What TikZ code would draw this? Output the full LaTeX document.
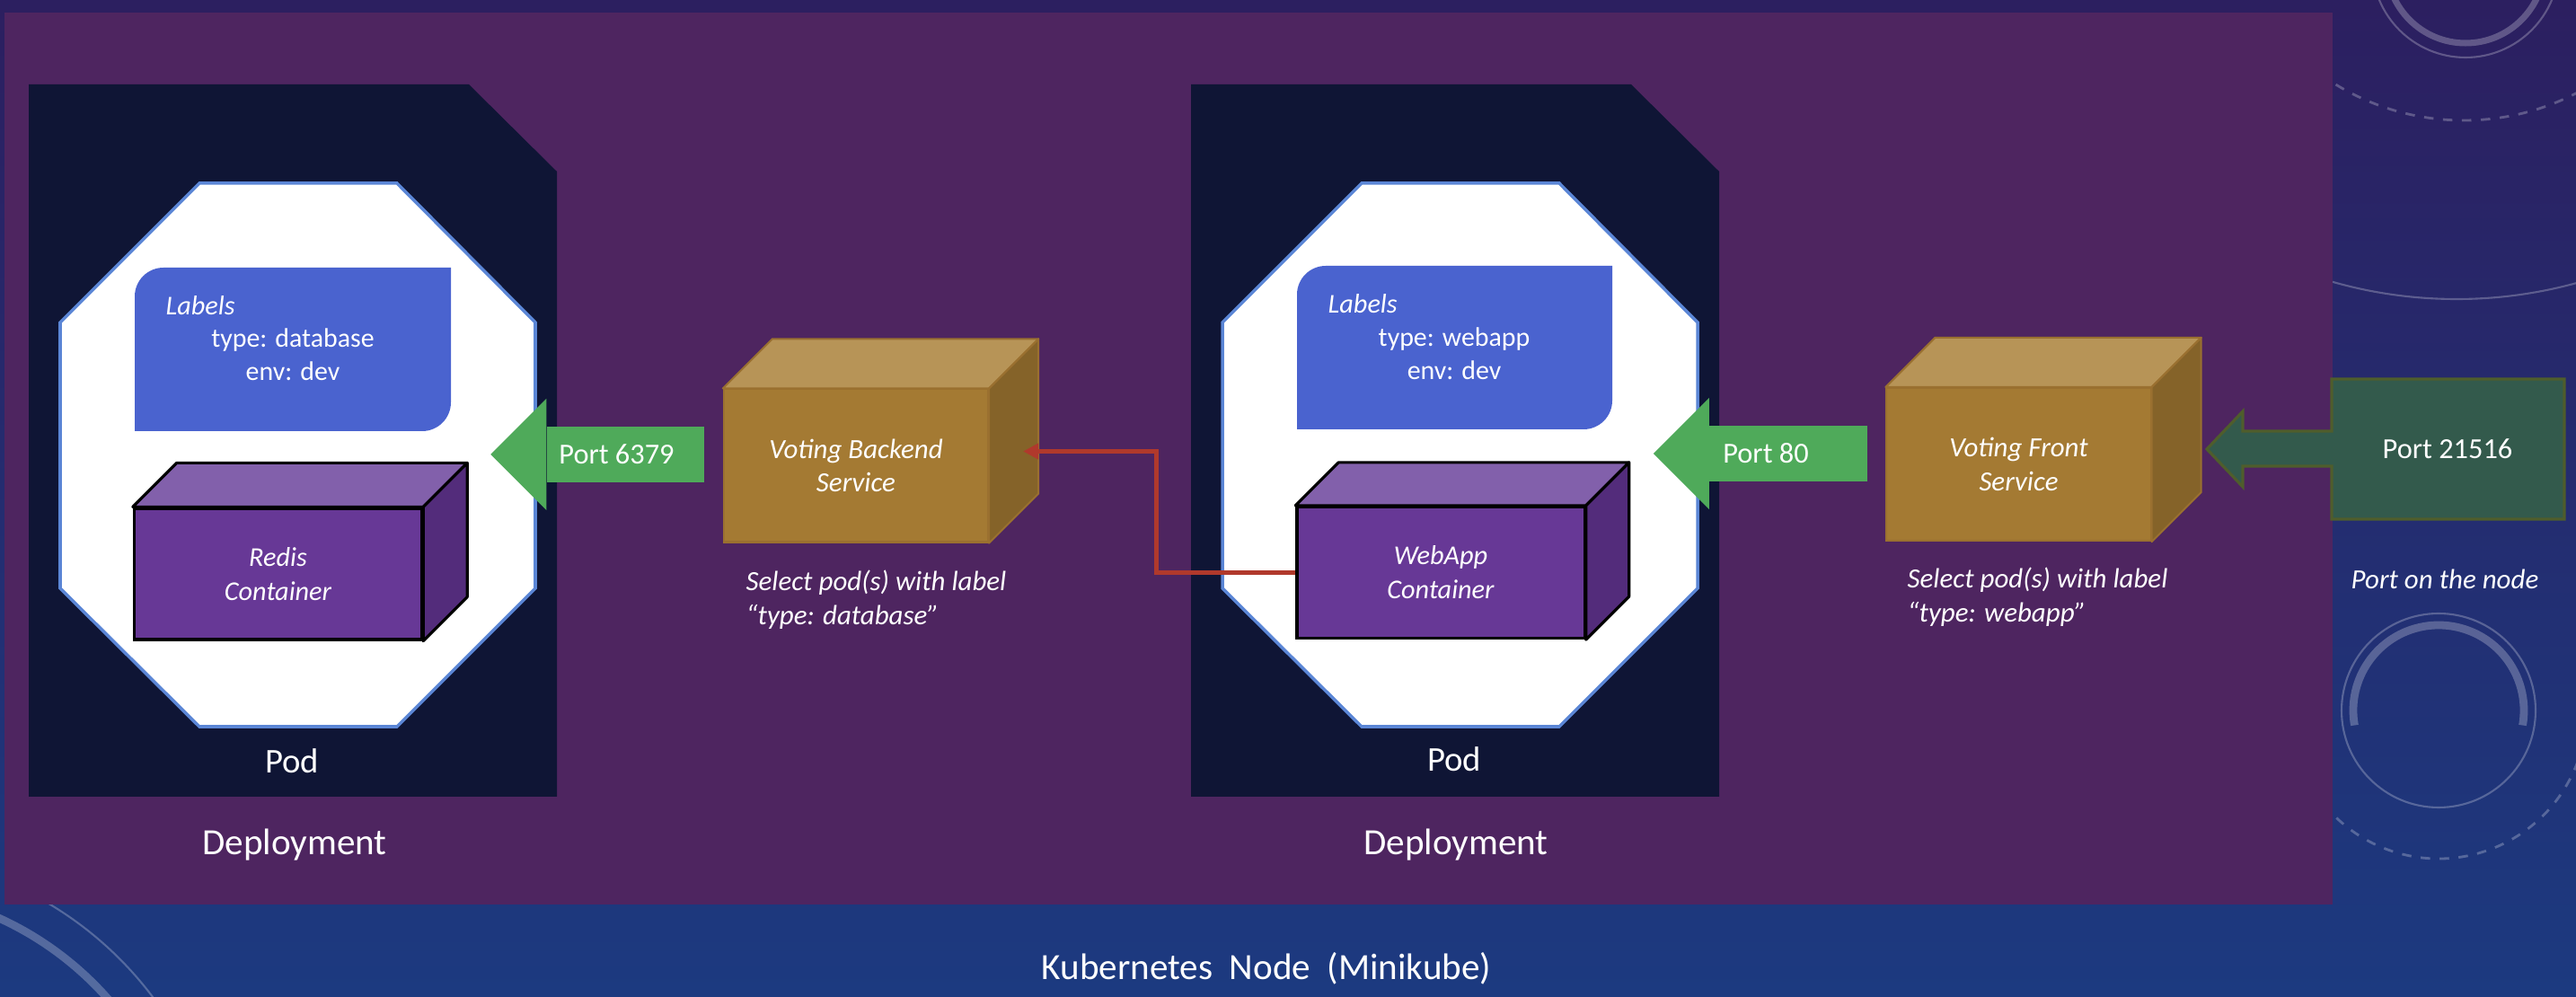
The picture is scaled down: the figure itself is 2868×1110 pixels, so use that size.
\documentclass[tikz,border=0pt]{standalone}
\usepackage{fontspec}
\setmainfont{Carlito}
\usetikzlibrary{arrows.meta}

\definecolor{bgtop}{HTML}{2C1F60}
\definecolor{bgbottom}{HTML}{1C3A80}
\definecolor{panelc}{HTML}{4E2560}
\definecolor{navyc}{HTML}{0F1535}
\definecolor{podblue}{HTML}{5B86D6}
\definecolor{labelblue}{HTML}{4A63CF}
\definecolor{cfront}{HTML}{673896}
\definecolor{ctopc}{HTML}{8260AB}
\definecolor{csidec}{HTML}{532C7B}
\definecolor{sfront}{HTML}{A47A33}
\definecolor{stopc}{HTML}{B79457}
\definecolor{ssidec}{HTML}{856329}
\definecolor{sedge}{HTML}{9A7030}
\definecolor{portgreen}{HTML}{4FAA5A}
\definecolor{nodeportc}{HTML}{335A4C}
\definecolor{nodeportedge}{HTML}{4F5D2C}
\definecolor{linkred}{HTML}{B0392C}

\tikzset{
  deploybox/.style={fill=navyc},
  podshape/.style={fill=white, draw=podblue, line width=1pt},
  ctr/.style={fill=cfront, draw=black, line width=0.9pt, minimum width=3.2cm, minimum height=1.46cm,
    inner sep=0pt, text=white, align=center, font=\fontsize{8.6}{10.8}\selectfont\itshape},
  ctrtop/.style={fill=ctopc, draw=black, line width=0.9pt, line join=round},
  ctrside/.style={fill=csidec, draw=black, line width=0.9pt, line join=round},
  svc/.style={fill=sfront, draw=sedge, line width=0.6pt, minimum width=2.94cm, minimum height=1.7cm,
    inner sep=0pt, text=white, align=center, font=\fontsize{8.8}{10.6}\selectfont\itshape},
  svctop/.style={fill=stopc, draw=sedge, line width=0.6pt, line join=round},
  svcside/.style={fill=ssidec, draw=sedge, line width=0.6pt, line join=round},
  lbltitle/.style={text=white, inner sep=0pt, font=\fontsize{8.6}{10.5}\selectfont\itshape},
  lbltext/.style={text=white, align=center, font=\fontsize{8.5}{10.5}\selectfont},
  seltext/.style={text=white, align=left, inner sep=0pt, font=\fontsize{8.8}{10.8}\selectfont\itshape},
  portbox/.style={fill=portgreen, minimum width=1.75cm, minimum height=0.62cm, inner sep=0pt,
    text=white, font=\fontsize{9.2}{11}\selectfont},
  porttext/.style={text=white, font=\fontsize{9.2}{11}\selectfont},
  podlbl/.style={text=white, font=\fontsize{11}{13}\selectfont},
  deplbl/.style={text=white, font=\fontsize{11.7}{14}\selectfont},
  redlink/.style={draw=linkred, line width=1.4pt, -{Triangle[length=4.8pt, width=4.8pt]}},
  decor/.style={draw=white, opacity=0.25}
}

% top and side faces of a box drawn in 3D
\newcommand{\cubefaces}[4]{%
  \filldraw[#3] (#1.north west) -- ++(#2,-#2) -- ([shift={(#2,-#2)}]#1.north east) -- (#1.north east) -- cycle;
  \filldraw[#4] (#1.north east) -- ([shift={(#2,-#2)}]#1.north east) -- ([shift={(#2,-#2)}]#1.south east) -- (#1.south east) -- cycle;
}

\begin{document}
\begin{tikzpicture}[x=0.01cm, y=-0.01cm]
    \shade[top color=bgtop, bottom color=bgbottom] (0,0) rectangle (2868,1110);
    \useasboundingbox (0,0) rectangle (2868,1110);

    % theme decoration
    \begin{scope}
        \clip (2597,0) rectangle (2868,1110) (0,1007) rectangle (2868,1110);
        \draw[decor, line width=0.6pt] (-150,1350) circle[radius=400];
        \draw[decor, line width=2.5pt] (-150,1350) circle[radius=360];
        \draw[decor, line width=0.6pt] (2745,-40) circle[radius=104];
        \draw[decor, line width=2pt] (2745,-40) circle[radius=88];
        \draw[decor, line width=0.8pt, dashed] (2743,-140) circle[radius=274];
        \draw[decor, line width=0.6pt] (2735,-170) circle[radius=503];
        \draw[decor, line width=0.6pt] (2715,791) circle[radius=108];
        \draw[decor, line width=2.5pt] (2715,791) ++(170:95) arc[start angle=170, end angle=370, radius=95];
        \draw[decor, line width=0.8pt, dashed] (2715,791) ++(20:165) arc[start angle=20, end angle=160, radius=165];
    \end{scope}

    % node area
    \fill[panelc] (5,14) rectangle (2597,1007);

    % database deployment
    \fill[deploybox] (32,94) -- (522,94) -- (620,191) -- (620,887) -- (32,887) -- cycle;
    \filldraw[podshape] (222,204) -- (442,204) -- (596,359) -- (596,655) -- (442,809) -- (222,809) -- (67,655) -- (67,359) -- cycle;
    \fill[labelblue] (150,480) -- (150,330) arc[start angle=180, end angle=270, radius=32] -- (502,298) -- (502,448) arc[start angle=0, end angle=90, radius=32] -- cycle;
    \node[lbltitle, anchor=west] (dblabels) at (184,340) {Labels};
    \node[lbltext] (dbtags) at (326,395) {type: database\\env: dev};
    \node[ctr] (redis) at (309.5,639) {Redis\\Container};
    \cubefaces{redis}{49}{ctrtop}{ctrside}
    \node[podlbl] (dbpod) at (325,847) {Pod};
    \node[deplbl] (dbdeploy) at (328,941) {Deployment};

    \node[portbox] (port6379) at (696.5,506) {\kern-0.1cm Port 6379\kern0.1cm};
    \fill[portgreen] ([shift={(0,-62)}]port6379.west) -- ([shift={(-62,0)}]port6379.west) -- ([shift={(0,62)}]port6379.west) -- cycle;

    \node[svc] (backend) at (953,518.5) {Voting Backend\\Service};
    \cubefaces{backend}{55}{svctop}{svcside}
    \node[seltext, anchor=west] (dbselect) at (830,668) {Select pod(s) with label\\``type: database''};

    % webapp deployment
    \fill[deploybox] (1326,94) -- (1816,94) -- (1914,191) -- (1914,887) -- (1326,887) -- cycle;
    \filldraw[podshape] (1516,204) -- (1736,204) -- (1890,359) -- (1890,655) -- (1736,809) -- (1516,809) -- (1361,655) -- (1361,359) -- cycle;
    \fill[labelblue] (1444,478) -- (1444,328) arc[start angle=180, end angle=270, radius=32] -- (1795,296) -- (1795,446) arc[start angle=0, end angle=90, radius=32] -- cycle;
    \node[lbltitle, anchor=west] (weblabels) at (1478,338) {Labels};
    \node[lbltext] (webtags) at (1619,394) {type: webapp\\env: dev};
    \node[ctr] (webapp) at (1604,637.5) {WebApp\\Container};
    \cubefaces{webapp}{48}{ctrtop}{ctrside}
    \node[podlbl] (webpod) at (1619,845) {Pod};
    \node[deplbl] (webdeploy) at (1621,941) {Deployment};

    \node[portbox] (port80) at (1991,505) {\kern-0.25cm Port 80\kern0.25cm};
    \fill[portgreen] ([shift={(0,-62)}]port80.west) -- ([shift={(-62,0)}]port80.west) -- ([shift={(0,62)}]port80.west) -- cycle;

    \node[svc] (frontsvc) at (2247.5,517) {Voting Front\\Service};
    \cubefaces{frontsvc}{55}{svctop}{svcside}
    \node[seltext, anchor=west] (webselect) at (2123,665) {Select pod(s) with label\\``type: webapp''};

    \draw[redlink] (webapp.west) -- ++(-155,0) |- ([shift={(38,-16)}]backend.east);

    % port on the node
    \filldraw[fill=nodeportc, draw=nodeportedge, line width=0.9pt] (2596,422) -- (2855,422) -- (2855,578) -- (2596,578) -- (2596,519) -- (2497,519) -- (2497,542) -- (2457,500) -- (2497,458) -- (2497,480) -- (2596,480) -- cycle;
    \node[porttext] (nodeport) at (2725,500) {Port 21516};
    \node[seltext] (nodeportnote) at (2722,645) {Port on the node};

    \node[deplbl] (minikube) at (1410,1078) {Kubernetes\ \ Node\ \ (Minikube)};
\end{tikzpicture}
\end{document}
